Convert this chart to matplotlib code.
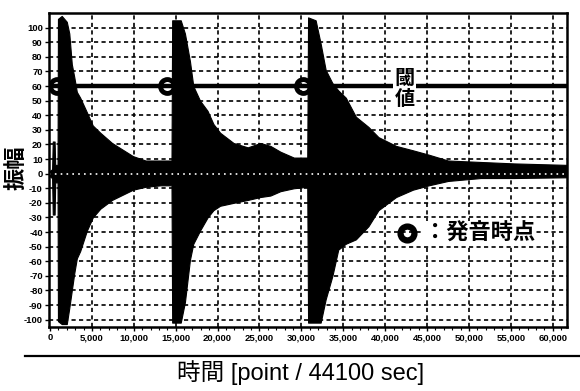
import matplotlib
matplotlib.use("Agg")
import matplotlib.pyplot as plt
from matplotlib.lines import Line2D
import numpy as np

# ---- data ----
env_x = [0, 250, 330, 550, 620, 900, 950, 1400, 2000, 2300, 2600, 2900, 3200, 3600, 4400,
         5100, 6000, 7400, 9900, 11400, 13200, 14500,
         14580, 15600, 16100, 16700, 17100, 17900, 18800, 19500, 20300, 21900, 23600,
         25100, 26300, 27500, 29100, 30700,
         30800, 31700, 32300, 32900, 33700, 34400, 35300, 36500, 38000, 39200, 41300,
         43300, 45200, 47500, 51400, 55400, 61700]
env_upper = [2, 3, 22, 22, 6, 6, 106, 108, 104, 96, 75, 66, 56, 52, 42,
             33, 28, 21, 12, 9, 9, 9,
             105, 105, 96, 77, 60, 50, 43, 34, 28, 21, 18,
             21, 19, 15, 11, 11,
             107, 105, 89, 71, 62, 57, 52, 39, 32, 25, 19,
             16, 13, 9, 8, 7, 6]
env_lower = [-2, -3, -28, -28, -6, -6, -101, -103, -103, -92, -80, -68, -58, -53, -39,
             -30, -24, -18, -11, -9, -8, -8,
             -102, -102, -88, -59, -48, -39, -30, -25, -22, -20, -18,
             -16, -15, -12, -10, -9,
             -102, -102, -102, -86, -70, -52, -48, -45, -36, -25, -16,
             -11, -8, -5, -3, -3, -2.5]
threshold = 60
onsets = [800, 13950, 30250]
xticks = list(range(0, 60001, 5000))
xtick_labels = [f"{v:,}" for v in xticks]
yticks = list(range(-100, 101, 10))

plt.rcParams['font.family'] = ['Liberation Sans', 'Noto Sans CJK JP', 'DejaVu Sans']

fig = plt.figure(figsize=(5.8, 3.91), dpi=100)
ax = fig.add_axes([49/580, 1-327/391, (567-49)/580, (327-13)/391])

ax.set_xlim(-120, 61700)
ax.set_ylim(-105, 110)

# grid
ax.set_xticks(xticks)
ax.set_yticks(yticks)
for v in xticks[1:]:
    ax.axvline(v, color='black', lw=1.2, ls=(0, (2.5, 2)), zorder=1)
for v in range(-100, 101, 10):
    if v != 0:
        ax.axhline(v, color='black', lw=1.2, ls=(0, (2.5, 2)), zorder=1)

# waveform envelope
ax.fill_between(env_x, env_lower, env_upper, color='black', lw=0.8, edgecolor='black', zorder=2)

# zero line (white dotted on top)
ax.axhline(0, color='white', lw=1.2, ls=(0, (1, 2.5)), zorder=3)

# threshold line
ax.axhline(threshold, color='black', lw=3.2, zorder=4)
ax.plot(onsets, [threshold]*len(onsets), 'o', ms=10, mfc='none', mec='black', mew=3.5, zorder=5)

ax.text(42300, 58.5, "閾\n値", fontsize=14.5, fontweight='bold', ha='center', va='center',
        linespacing=1.0, family=['Noto Sans CJK JP', 'DejaVu Sans'],
        bbox=dict(facecolor='white', edgecolor='none', pad=1.0), zorder=6)

# legend
ax.plot([42600], [-40.5], 'o', ms=10, mfc='none', mec='black', mew=4.5, zorder=6, clip_on=False)
ax.text(44600, -40.5, "：発音時点", fontsize=16, fontweight='bold', ha='left', va='center',
        family=['Noto Sans CJK JP', 'DejaVu Sans'],
        bbox=dict(facecolor='white', edgecolor='none', pad=0.5), zorder=6)

# ticks
tick_font = dict(family=['Liberation Sans Narrow', 'Liberation Sans', 'DejaVu Sans'],
                 fontweight='bold', fontsize=6.8)
ax.set_xticklabels(xtick_labels, **tick_font)
ax.set_yticklabels([str(v) for v in yticks], **tick_font)
ax.tick_params(axis='both', direction='out', length=3, width=1.0, pad=1.5, colors='black')
ax.set_xticks(range(0, 61001, 1000), minor=True)
ax.tick_params(axis='x', which='minor', direction='out', length=2, width=0.8)

for s in ax.spines.values():
    s.set_linewidth(1.8)
    s.set_zorder(7)

# axis labels
fig.text(16/580, 1-168/391, "振幅", rotation=90, fontsize=16, fontweight='bold',
         ha='center', va='center', family=['Noto Sans CJK JP', 'DejaVu Sans'])
fig.text(301/580, 1-373/391, "時間 [point / 44100 sec]", fontsize=17,
         ha='center', va='center', family=['Liberation Sans', 'Noto Sans CJK JP', 'DejaVu Sans'])

# separator line under the axis
fig.add_artist(Line2D([25/580, 1.0], [1-356/391, 1-356/391], transform=fig.transFigure,
                      color='black', lw=1.6))

fig.savefig("out.png", dpi=100)
